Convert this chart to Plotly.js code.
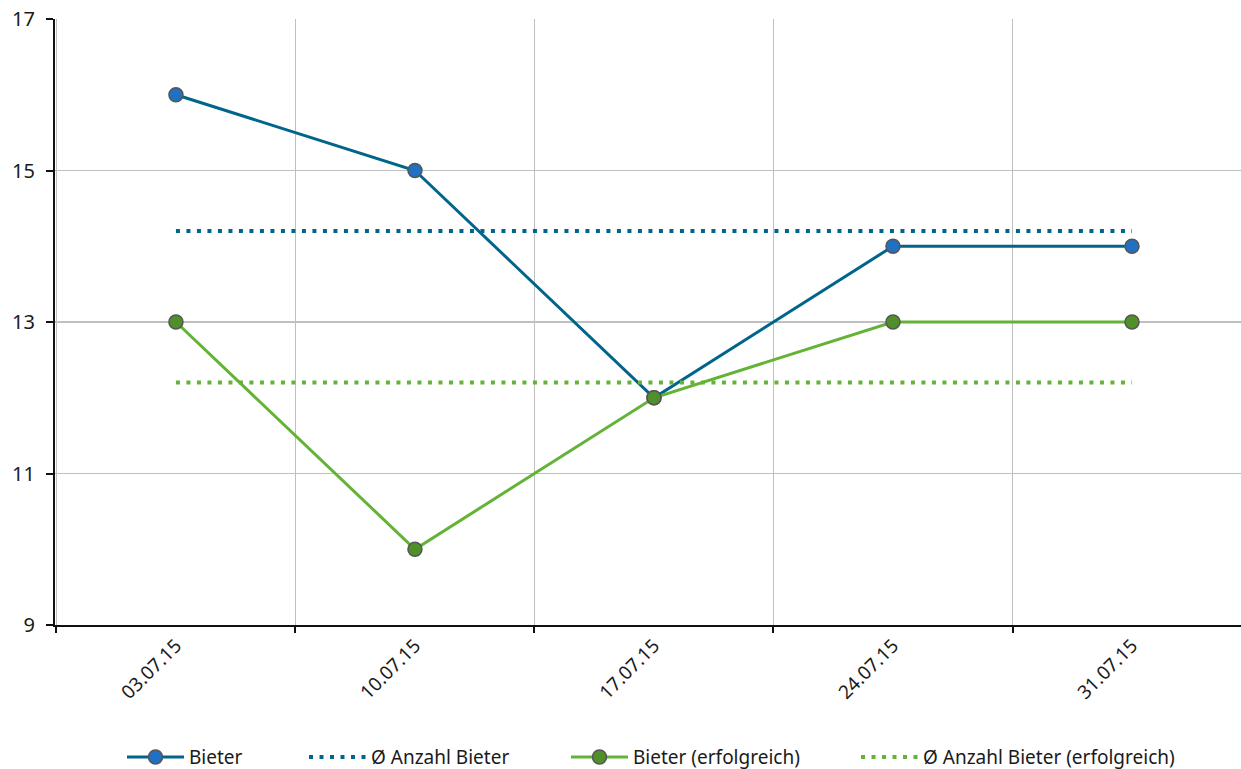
<!DOCTYPE html>
<html>
<head>
<meta charset="utf-8">
<script src="https://cdn.plot.ly/plotly-3.0.1.min.js"></script>
<style>
html,body{margin:0;padding:0;overflow:hidden;background:#fff;}
#chart{width:1241px;height:769px;}
</style>
</head>
<body>
<div id="chart"></div>
<script>
const dates = ["03.07.15", "10.07.15", "17.07.15", "24.07.15", "31.07.15"];
const bieter = [16, 15, 12, 14, 14];
const bieterErfolgreich = [13, 10, 12, 13, 13];
const avgBieter = [14.2, 14.2, 14.2, 14.2, 14.2];
const avgBieterErfolgreich = [12.2, 12.2, 12.2, 12.2, 12.2];
const seriesNames = ["Bieter", "Ø Anzahl Bieter", "Bieter (erfolgreich)", "Ø Anzahl Bieter (erfolgreich)"];

const blueLine = "#00658a";
const blueMarker = "#2070c4";
const greenLine = "#62b336";
const greenMarker = "#4f902a";

const traces = [
  {x: dates, y: bieter, name: seriesNames[0], type: "scatter", mode: "lines+markers",
   line: {color: blueLine, width: 3}, legendwidth: 110,
   marker: {size: 14, color: blueMarker, line: {color: "#555555", width: 1.5}}},
  {x: dates, y: avgBieter, name: seriesNames[1], type: "scatter", mode: "lines",
   legendwidth: 190,
   line: {color: blueLine, width: 4, dash: "4px,6.5px"}},
  {x: dates, y: bieterErfolgreich, name: seriesNames[2], type: "scatter", mode: "lines+markers",
   line: {color: greenLine, width: 3}, legendwidth: 218,
   marker: {size: 14, color: greenMarker, line: {color: "#555555", width: 1.5}}},
  {x: dates, y: avgBieterErfolgreich, name: seriesNames[3], type: "scatter", mode: "lines",
   line: {color: greenLine, width: 4, dash: "4px,6.5px"}}
];

const layout = {
  width: 1241, height: 769,
  margin: {l: 55, r: 0, t: 19, b: 144, autoexpand: false},
  paper_bgcolor: "#ffffff", plot_bgcolor: "#ffffff",
  font: {family: "Noto Sans, sans-serif", color: "#1a1a1a", size: 19},
  showlegend: true,
  legend: {orientation: "h", x: 67 / 1186, xanchor: "left", y: -0.218, yanchor: "middle",
           font: {size: 19, color: "#1a1a1a"}, itemwidth: 57, traceorder: "normal"},
  xaxis: {type: "category", tickson: "boundaries", showgrid: true, gridcolor: "#bfbfbf", gridwidth: 1.5,
          showline: true, linecolor: "#111111", linewidth: 2, ticks: "outside", ticklen: 6, tickwidth: 2,
          tickcolor: "#111111", tickangle: -45, tickfont: {size: 19}, zeroline: false, automargin: false,
          range: [-0.506, 4.456]},
  yaxis: {range: [9, 17], dtick: 2, tick0: 9, showgrid: true, gridcolor: "#bfbfbf", gridwidth: 1.5,
          showline: true, linecolor: "#111111", linewidth: 2, ticks: "outside", ticklen: 7, tickwidth: 2,
          tickcolor: "#111111", tickfont: {size: 20}, zeroline: false, automargin: false,
          ticklabelstandoff: 7}
};

Plotly.newPlot("chart", traces, layout, {displayModeBar: false, staticPlot: true});
</script>
</body>
</html>
